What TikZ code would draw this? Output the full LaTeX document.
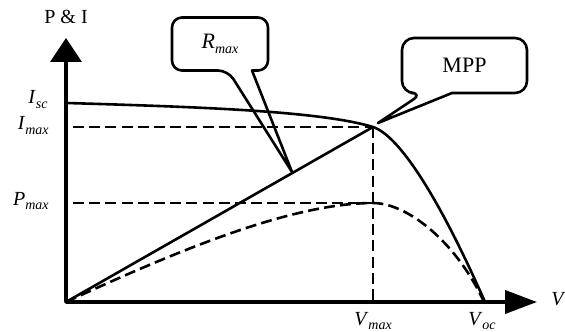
\documentclass[tikz,border=0pt]{standalone}
\usepackage{fontspec}
\setmainfont{Liberation Serif}
\usetikzlibrary{arrows.meta}
\usetikzlibrary{positioning}
\newcommand{\sublbl}[2]{\textit{#1}\raisebox{-0.45ex}{\scriptsize\textit{#2}}}

\begin{document}
\begin{tikzpicture}[x=0.5pt,y=-0.5pt,line join=round,
    axis/.style={line width=1.9pt},
    curve/.style={line width=1.3pt},
    guide/.style={line width=1.3pt, dash pattern=on 5.5pt off 2.6pt},
    bubble/.style={line width=1.3pt},
    lbl/.style={font=\fontsize{10}{11}\selectfont, inner sep=0pt},
    bubbletext/.style={font=\fontsize{11}{13}\selectfont, inner sep=0pt, outer sep=0pt}]
    \useasboundingbox (0,0) rectangle (565,331);

    % points of the curves
    \coordinate (origin) at (66,302);
    \coordinate (ytip) at (66,38);
    \coordinate (xtip) at (537,302);
    \coordinate (iscpt) at (67,103);
    \coordinate (mpp) at (373,127);
    \coordinate (vocpt) at (485,302);
    \coordinate (peak) at (374,203);
    \coordinate (pend) at (484,302);
    \coordinate (imaxstart) at (73,127);
    \coordinate (pmaxstart) at (73,203);
    \coordinate (rtip) at (292,172);
    \coordinate (mtip) at (378,123);

    % axes
    \draw[axis,{Triangle[length=12pt,width=15.5pt]}-{Triangle[length=16pt,width=11.5pt]}] (ytip) -- (origin) -- (xtip);

    % labels
    \node[lbl, anchor=base] (pi) at (66,24) {P \& I};
    \node[lbl, anchor=base west] (vlab) at (551,305) {\textit{V}};
    \node[lbl, anchor=base east] (isc) at (48,104) {\sublbl{I}{sc}};
    \node[lbl, anchor=base east] (imax) at (49,130) {\sublbl{I}{max}};
    \node[lbl, anchor=base east] (pmax) at (49,205) {\sublbl{P}{max}};
    \node[lbl, anchor=base] (vmax) at (373,325) {\sublbl{V}{max}};
    \node[lbl, anchor=base] (voc) at (482,325) {\sublbl{V}{oc}};

    % I-V curve and load line
    \draw[curve] (iscpt) .. controls (200,107) and (320,111) .. (mpp)
        .. controls (400,136) and (440,200) .. (vocpt);
    \draw[curve] (origin) -- (mpp);

    % P-V curve and guides
    \draw[guide] (origin) .. controls (200,240) and (300,203) .. (peak)
        .. controls (410,204) and (458,245) .. (pend);
    \draw[guide] (imaxstart) -- (mpp);
    \draw[guide] (pmaxstart) -- (peak);
    \draw[guide] (mpp) -- (mpp |- origin);

    % callouts
    \node[bubbletext, minimum width=48pt, minimum height=26.5pt] (rmax) at (220,44) {\sublbl{R}{max}};
    \draw[bubble] (rtip) -- ([xshift=16pt]rmax.south) [rounded corners=5pt]
        -- (rmax.south east) -- (rmax.north east) -- (rmax.north west)
        -- (rmax.south west) -- ([xshift=4pt]rmax.south) [sharp corners] -- cycle;

    \node[bubbletext, minimum width=62.5pt, minimum height=27.5pt] (mppbox) at (464.5,65.5) {MPP};
    \draw[bubble] (mtip) -- ([xshift=-6.25pt]mppbox.south) [rounded corners=6pt]
        -- (mppbox.south east) -- (mppbox.north east) -- (mppbox.north west)
        -- (mppbox.south west) -- ([xshift=-20.75pt]mppbox.south) [sharp corners] -- cycle;
\end{tikzpicture}
\end{document}
